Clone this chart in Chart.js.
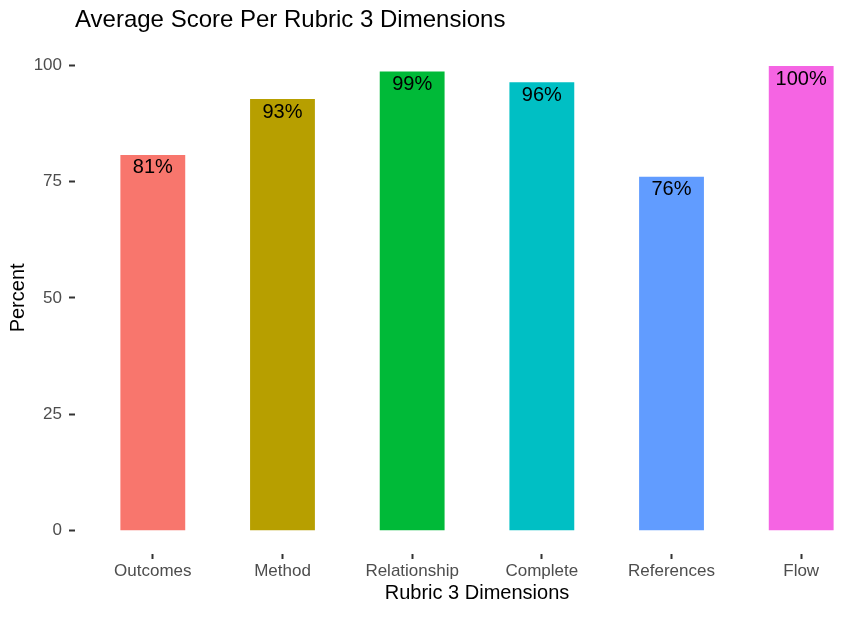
<!DOCTYPE html>
<html>
<head>
<meta charset="utf-8">
<script src="https://cdn.jsdelivr.net/npm/chart.js@4"></script>
<style>
  body { margin: 0; overflow: hidden; background: #fff; }
  #wrap { width: 880px; height: 620px; }
</style>
</head>
<body>
<div id="wrap"><canvas id="myChart"></canvas></div>
<script>
/* datos */
const dimensiones = ['Outcomes', 'Method', 'Relationship', 'Complete', 'References', 'Flow'];
const porcentajes = [80.7, 92.7, 98.6, 96.3, 76.0, 99.8];
const ticksY = [0, 25, 50, 75, 100];
const colores = ['#F8766D', '#B79F00', '#00BA38', '#00BFC4', '#619CFF', '#F564E3'];

const fuente = "'Liberation Sans', Arial, sans-serif";
Chart.defaults.font.family = fuente;

const ctx = document.getElementById('myChart');

// etiquetas dentro de cada barra
const etiquetas = {
  id: 'etiquetas',
  afterDatasetsDraw(chart) {
    const c = chart.ctx;
    const meta = chart.getDatasetMeta(0);
    c.save();
    c.font = '20px ' + fuente;
    c.fillStyle = '#000';
    c.textAlign = 'center';
    c.textBaseline = 'middle';
    meta.data.forEach((bar, i) => {
      c.fillText(Math.round(porcentajes[i]) + '%', bar.x, bar.y + 13);
    });
    c.restore();
  }
};

new Chart(ctx, {
  type: 'bar',
  data: {
    datasets: [{
      data: porcentajes.map((v, i) => ({ x: i, y: v })),
      backgroundColor: colores,
      borderWidth: 0,
      categoryPercentage: 1,
      barPercentage: 0.5
    }]
  },
  options: {
    responsive: true,
    maintainAspectRatio: false,
    animation: false,
    layout: { padding: { left: 0, right: 1, top: 0, bottom: 0 } },
    plugins: {
      legend: { display: false },
      tooltip: { enabled: false },
      title: {
        display: true,
        text: 'Average Score Per Rubric 3 Dimensions',
        align: 'start',
        fullSize: false,
        color: '#000',
        font: { size: 24, weight: 'normal' },
        padding: { top: 6, bottom: 7 }
      }
    },
    scales: {
      x: {
        type: 'linear',
        offset: false,
        min: -0.6,
        max: dimensiones.length - 0.4,
        afterBuildTicks: (scale) => { scale.ticks = dimensiones.map((d, i) => ({ value: i })); },
        afterFit: (scale) => { scale.height = 66; },
        ticks: {
          callback: (v) => dimensiones[v],
          color: '#4D4D4D',
          font: { size: 17 },
          padding: 2,
          maxRotation: 0,
          autoSkip: false
        },
        grid: { offset: false, drawOnChartArea: false, drawTicks: true, tickLength: 5, tickWidth: 2, tickColor: '#333333' },
        border: { display: false },
        title: {
          display: true,
          text: 'Rubric 3 Dimensions',
          color: '#000',
          font: { size: 20 },
          padding: { top: 0, bottom: 15 }
        }
      },
      y: {
        min: -5,
        max: 105,
        afterBuildTicks: (scale) => { scale.ticks = ticksY.map(v => ({ value: v })); },
        afterFit: (scale) => { scale.width = 75; },
        ticks: {
          color: '#4D4D4D',
          font: { size: 17 },
          padding: 7
        },
        grid: { drawOnChartArea: false, drawTicks: true, tickLength: 6, tickWidth: 2, tickColor: '#333333' },
        border: { display: false },
        title: {
          display: true,
          text: 'Percent',
          color: '#000',
          font: { size: 20 },
          padding: { top: 6, bottom: 0 }
        }
      }
    }
  },
  plugins: [etiquetas]
});
</script>
</body>
</html>
